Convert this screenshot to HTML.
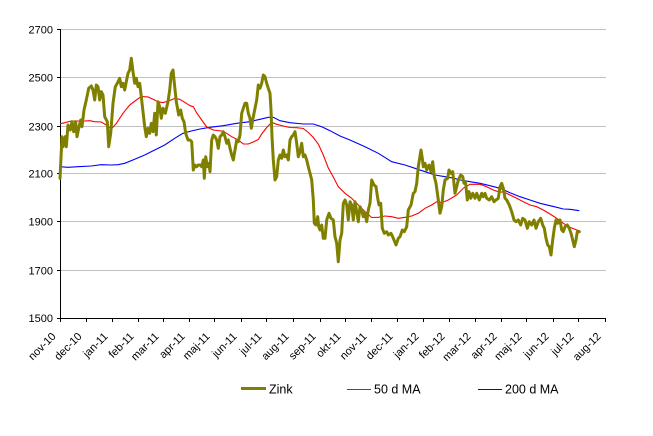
<!DOCTYPE html>
<html><head><meta charset="utf-8"><style>
html,body{margin:0;padding:0;background:#fff;}
svg{display:block;}
text{font-family:"Liberation Sans",Arial,sans-serif;fill:#000;}
</style></head><body>
<svg width="653" height="436" viewBox="0 0 653 436" xmlns="http://www.w3.org/2000/svg">
<rect width="653" height="436" fill="#fff"/>
<g stroke="#c0c0c0" stroke-width="1">
<line x1="60" y1="29.5" x2="606" y2="29.5"/>
<line x1="60" y1="77.5" x2="606" y2="77.5"/>
<line x1="60" y1="126.5" x2="606" y2="126.5"/>
<line x1="60" y1="173.5" x2="606" y2="173.5"/>
<line x1="60" y1="221.5" x2="606" y2="221.5"/>
<line x1="60" y1="270.5" x2="606" y2="270.5"/>
</g>
<g font-size="11" text-anchor="end">
<text x="53" y="33.5">2700</text>
<text x="53" y="81.5">2500</text>
<text x="53" y="130.5">2300</text>
<text x="53" y="177.5">2100</text>
<text x="53" y="225.5">1900</text>
<text x="53" y="274.5">1700</text>
<text x="53" y="322">1500</text>
</g>
<g stroke="#000" stroke-width="1">
<line x1="60.5" y1="29" x2="60.5" y2="318.5"/>
<line x1="60" y1="318.5" x2="606" y2="318.5"/>
<line x1="57" y1="29.5" x2="60" y2="29.5"/>
<line x1="57" y1="77.5" x2="60" y2="77.5"/>
<line x1="57" y1="126.5" x2="60" y2="126.5"/>
<line x1="57" y1="173.5" x2="60" y2="173.5"/>
<line x1="57" y1="221.5" x2="60" y2="221.5"/>
<line x1="57" y1="270.5" x2="60" y2="270.5"/>
<line x1="57" y1="318.5" x2="60" y2="318.5"/>
<path d="M60.5 318v4M86.5 318v4M112.5 318v4M138.5 318v4M163.5 318v4M189.5 318v4M214.5 318v4M241.5 318v4M266.5 318v4M293.5 318v4M320.5 318v4M345.5 318v4M371.5 318v4M397.5 318v4M423.5 318v4M449.5 318v4M475.5 318v4M501.5 318v4M526.5 318v4M553.5 318v4M578.5 318v4M605.5 318v4"/>
</g>
<g font-size="11" text-anchor="end">
<text transform="translate(56.5,337) rotate(-45)">nov-10</text>
<text transform="translate(82.5,337) rotate(-45)">dec-10</text>
<text transform="translate(108.5,337) rotate(-45)">jan-11</text>
<text transform="translate(134.5,337) rotate(-45)">feb-11</text>
<text transform="translate(159.5,337) rotate(-45)">mar-11</text>
<text transform="translate(185.5,337) rotate(-45)">apr-11</text>
<text transform="translate(210.5,337) rotate(-45)">maj-11</text>
<text transform="translate(237.5,337) rotate(-45)">jun-11</text>
<text transform="translate(262.5,337) rotate(-45)">jul-11</text>
<text transform="translate(289.5,337) rotate(-45)">aug-11</text>
<text transform="translate(316.5,337) rotate(-45)">sep-11</text>
<text transform="translate(341.5,337) rotate(-45)">okt-11</text>
<text transform="translate(367.5,337) rotate(-45)">nov-11</text>
<text transform="translate(393.5,337) rotate(-45)">dec-11</text>
<text transform="translate(419.5,337) rotate(-45)">jan-12</text>
<text transform="translate(445.5,337) rotate(-45)">feb-12</text>
<text transform="translate(471.5,337) rotate(-45)">mar-12</text>
<text transform="translate(497.5,337) rotate(-45)">apr-12</text>
<text transform="translate(522.5,337) rotate(-45)">maj-12</text>
<text transform="translate(549.5,337) rotate(-45)">jun-12</text>
<text transform="translate(574.5,337) rotate(-45)">jul-12</text>
<text transform="translate(601.5,337) rotate(-45)">aug-12</text>
</g>
<polyline fill="none" stroke="#0000ff" stroke-width="1.1" points="60,166.7 68,167.3 78,166.7 91.3,166 101.3,164.7 111.3,165 118,164.7 124.7,163.3 134.7,159.3 144.7,155 154.7,150 164.7,145 174.7,138.3 183,133.3 191.3,131 200,129 210,127.3 223.3,125.7 236.7,123.3 250,121.7 260,119.3 268.3,117.3 273.3,117.3 280,120.7 290,122.7 303.3,124 313.3,124 321.7,126.7 330,130.7 340,136 350,140 365,146.7 378.3,153.3 391.7,161.7 405,165 415,168.3 425,171.7 435,175 445,176.7 454.3,178.3 460,180 470,181.7 480,183.3 490,185.7 500,188.3 510,192.7 520,196.7 530,200 540,203.3 550,205.7 556.7,207.3 563.3,209 570,209.3 579.3,210.7"/>
<polyline fill="none" stroke="#ff0000" stroke-width="1.1" points="60,123.8 64.7,122.7 71.3,121 84.7,121 89.7,120.7 94.7,121.7 101.3,122 106.3,125 111.3,129 116.3,123.5 123,113.3 129.7,105 136.3,100 141.3,96.5 148,96.9 153,99.3 158,101.7 163,102.7 169.7,100.5 174.7,98.5 179.7,99.3 186.3,103.3 190,105.7 193.3,106.7 196.7,113 201.7,120 206.7,127 213.3,130 221.7,131 226.7,133.3 231.7,136.7 238.3,140 243.3,144 248.3,144 253.3,142 258.3,139.5 261.7,134 266.7,127.5 271.7,122.3 276.7,124.3 283.3,126 290,127.5 296.7,127.7 303.3,128.5 308.3,132.5 313.3,137.5 318.3,144 323.3,155 328.3,168 333.3,177 338.3,186.7 345,193.3 351.7,198.3 358.3,205 365,211.7 371.7,217.5 378.3,217.3 385,216 391.7,216.7 398.3,218.3 405,217.3 411.7,216 418.3,213.3 425,208.3 431.7,205 436.7,201.7 441.7,202.7 448.3,200 456.7,195 463.3,188.3 470,184.3 480,184.3 486.7,186.7 493.3,190 500,192.3 503.3,191.7 510,195 516.7,198.3 523.3,201.7 530,205 536.7,206.7 543.3,210 550,214 556.7,218.3 563.3,223.3 570,227.3 576.7,230 579.3,230.7"/>
<polyline fill="none" stroke="#808000" stroke-width="3" stroke-linejoin="round" stroke-linecap="round" points="60,178.3 62,136.7 63,146.7 65.3,136.7 66.3,146.7 68,125 70.3,130 72,121.7 73.7,131.7 75.7,121.7 77,136.7 78.7,128.3 80.7,120 82,126.7 84,110 86.3,100 88.7,88.3 91.3,86 93,90 94.7,100 96.3,85 98,86.7 99.7,100 101.3,91.7 103,95 104.7,116.7 107.3,121.7 108.7,146.7 110.7,133.3 113,103.3 115.3,86.7 117.3,83.3 119.7,78.3 121.3,86.7 123,83.3 124.7,90 126.3,81.7 128,73.3 129.7,70 131.3,58.3 133,71.7 134.7,83.3 136.3,78.3 138,86.7 139.7,83.3 141.3,96.7 143,111.7 144.7,126.7 146.3,136.7 148,128.3 149.7,133.3 151.3,123.3 153,131.7 154.7,113.3 156.3,135 158,101.7 159.7,106.7 161.3,118.3 163,108.3 165.3,113.3 168,101.7 169.7,90 171.3,73.3 173,70 174.7,86.7 176.3,101.7 178.7,115 180.7,110 182.3,118.3 184,121.7 185.7,133.3 188,140 190,140 191.7,141.7 193.3,170 195,165 196.7,166.7 198.3,165 200,165 201.7,166.7 203.3,160 204.3,178.3 205.7,156.7 207.3,166.7 209,163.3 210,171.7 211.7,140 213.3,135 215,136.7 216.7,140 218.3,148.3 220,136.7 221.7,135 223.3,131.7 225,136.7 226.7,143.3 228.3,140 230,148.3 231.7,155 233.3,160 235,150 236.7,140 238.3,141.7 240,135 241.7,113.3 243.3,108.3 245,103.3 246.7,103.3 248.3,113.3 250,118.3 251.3,128.3 252.7,120 255,108.3 256.7,100 258.3,85 260,88.3 261.7,83.3 263.3,75 265,76.7 266.7,83.3 268.3,88.3 270,93.3 271,110 272,136.7 273.3,160 275,180 276.7,176.7 278.3,160 280,155 281.7,158.3 283.3,150 285,156.7 286.7,155 288.3,160 290,140 291.7,136.7 293.3,135 295,131.7 296.7,143.3 298.3,156.7 300,151.7 301.7,143.3 303.3,156.7 305,155 306.7,160 308.3,166.7 310,173.3 311.7,180 313.3,200 314.3,223.3 316,225 317.7,216.7 318.7,226.7 320,230 321.7,225 323.3,238.3 325,238.3 326.7,220 329,213.3 331,218.3 333.3,220 335,236.7 336.7,243.3 338.3,261.7 340,240 341.7,233.3 343.3,203.3 345,200 346.7,205 348.3,220 350,201.7 351.7,205 353.3,220 355,201.7 356.7,211.7 358.3,221.7 360,206.7 361.7,210 363.3,216.7 365,213.3 366.7,221.7 368.3,210 370,203.3 371.7,180 374,185 376,186.7 377.7,198.3 379,205 380.7,203.3 382.3,228.3 384.3,233.3 386.7,231.7 388.3,235 391,233.3 393.3,238.3 396,245 398.3,238.3 400,236.7 402.3,230 404.3,231.7 406.7,226.7 408.3,210 411,205 413.3,193.3 415,191.7 416.7,183.3 418.3,166.7 421,150 422.3,158.3 423.3,166.7 425,163.3 426.7,170 429,165 431,171.7 432.7,161.7 434.3,176.7 436,183.3 438.3,200 440,213.3 441.7,206.7 443.3,190 445,180 447.7,178.3 449,170 451,173.3 452.7,171.7 455,193.3 456.7,186.7 458.3,180 460.7,175 462.7,176.7 464,183.3 465.7,183.3 467.3,200 469,191.7 470.7,198.3 472.7,193.3 475,198.3 476.7,193.3 479.3,200 481.7,193.3 483.3,196.7 485,193.3 486.7,198.3 489.3,200 491.7,196.7 494,201.7 496,200 498.3,198.3 500,186.7 501.7,183.3 503.3,188.3 505,198.3 506.7,200 509.3,205 511.7,211.7 514,220 516,221.7 518.3,220 520.7,225 522.7,218.3 525,220 527.3,228.3 529.3,221.7 531.7,225 534,220 536,228.3 538.3,221.7 540.7,218.3 542.7,225 544.3,228.3 546,238.3 547.7,245 549.3,246.7 551,255 552.7,240 554.3,228.3 556,220 557.7,223.3 560,220 561.7,230 563.3,231.7 565,226.7 567.3,225 569.3,228.3 571,233.3 572.7,240 574.3,246.7 576,240 577.3,231.7 579.3,231.7"/>
<line x1="241" y1="388.5" x2="266" y2="388.5" stroke="#808000" stroke-width="3"/>
<text x="269" y="393.5" font-size="12.5">Zink</text>
<line x1="347" y1="389.5" x2="371" y2="389.5" stroke="#ff0000" stroke-width="1"/>
<text x="374" y="393.5" font-size="12.5">50 d MA</text>
<line x1="478" y1="389.5" x2="502" y2="389.5" stroke="#0000ff" stroke-width="1"/>
<text x="505" y="393.5" font-size="12.5">200 d MA</text>
</svg>
</body></html>
